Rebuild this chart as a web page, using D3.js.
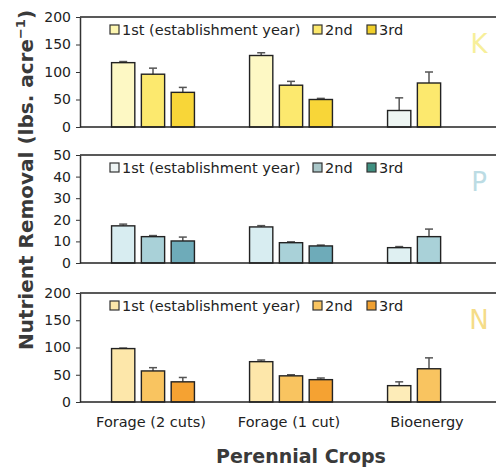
<!DOCTYPE html>
<html lang="en">
<head>
  <meta charset="UTF-8">
  <title>Nutrient removal by perennial crops</title>
  <script src="https://d3js.org/d3.v7.min.js"></script>
  <style>
    body { margin: 0; background: #fff; font-family: "DejaVu Sans", sans-serif; }
    svg { display: block; }
    .axis path, .axis line { stroke: #333; }
    .axis text { fill: #222; font-size: 14px; font-family: "DejaVu Sans", sans-serif; }
  </style>
</head>
<body>
  <svg id="chart" width="496" height="470"></svg>
  <script>
    // crops and years
    const crops = ["Forage (2 cuts)", "Forage (1 cut)", "Bioenergy"];
    const years = ["1st (establishment year)", "2nd", "3rd"];

    // values per panel: [crop][year], null = no bar
    const kValues = [[117, 96, 63], [130, 76, 50], [30, 80, null]];
    const kErrors = [[119, 107, 72], [135, 83, 52], [53, 100, null]];
    const pValues = [[17.2, 12.2, 10.2], [16.7, 9.4, 7.9], [7.1, 12.2, null]];
    const pErrors = [[18, 12.7, 12], [17.3, 9.8, 8.3], [7.6, 15.7, null]];
    const nValues = [[98, 57, 37], [74, 48, 41], [30, 61, null]];
    const nErrors = [[99, 63, 45], [77, 50, 44], [37, 81, null]];

    const kTicks = [0, 50, 100, 150, 200];
    const pTicks = [0, 10, 20, 30, 40, 50];
    const nTicks = [0, 50, 100, 150, 200];

    const panels = [
      { label: "K", values: kValues, errors: kErrors, ticks: kTicks, max: 200, top: 17, bottom: 127,
        colors: ["#fdf8c4", "#fce96e", "#f8d638"], bio1: "#eef6f3", labelColor: "#f7ef9a",
        legendColors: ["#fdf6b0", "#fce86c", "#f0cf2a"] },
      { label: "P", values: pValues, errors: pErrors, ticks: pTicks, max: 50, top: 155, bottom: 263,
        colors: ["#d8edf1", "#a9d1d8", "#6eabb9"], bio1: "#dff0f2", labelColor: "#bcdce4",
        legendColors: ["#eef4f4", "#a9c6c8", "#3f8f80"] },
      { label: "N", values: nValues, errors: nErrors, ticks: nTicks, max: 200, top: 293, bottom: 402,
        colors: ["#fde7aa", "#f9c460", "#f5a232"], bio1: "#fdecb8", labelColor: "#f5dc88",
        legendColors: ["#fde7aa", "#f9c460", "#f0a030"] }
    ];

    const svg = d3.select("#chart");
    const left = 80, right = 496;

    const x = d3.scaleBand().domain(crops).range([84, 498]).paddingInner(0);
    const xYear = d3.scaleBand().domain(years).range([-48, 48]).padding(0.22);

    panels.forEach(p => {
      const y = d3.scaleLinear().domain([0, p.max]).range([p.bottom, p.top]);
      const g = svg.append("g");

      // top frame line
      g.append("line").attr("x1", left).attr("x2", right).attr("y1", p.top).attr("y2", p.top)
        .attr("stroke", "#222").attr("stroke-width", 1.5);

      // panel letter
      g.append("text").attr("x", 479).attr("y", p.top + 36).attr("text-anchor", "middle")
        .attr("font-size", 26).attr("fill", p.labelColor).text(p.label);

      // bars
      p.values.forEach((row, ci) => {
        row.forEach((v, yi) => {
          if (v == null) return;
          const cx = x(crops[ci]) + x.bandwidth() / 2;
          const bx = cx + xYear(years[yi]);
          const bw = xYear.bandwidth();
          const fill = (ci === 2 && yi === 0) ? p.bio1 : p.colors[yi];
          const e = p.errors[ci][yi];
          g.append("line").attr("x1", bx + bw / 2).attr("x2", bx + bw / 2)
            .attr("y1", y(v)).attr("y2", y(e)).attr("stroke", "#555").attr("stroke-width", 1.5);
          g.append("line").attr("x1", bx + bw / 2 - 4).attr("x2", bx + bw / 2 + 4)
            .attr("y1", y(e)).attr("y2", y(e)).attr("stroke", "#555").attr("stroke-width", 1.5);
          g.append("rect").attr("x", bx).attr("y", y(v)).attr("width", bw).attr("height", y(0) - y(v))
            .attr("fill", fill).attr("stroke", "#222").attr("stroke-width", 1.4);
        });
      });

      // axes
      g.append("g").attr("class", "axis").attr("transform", `translate(${left},0)`)
        .call(d3.axisLeft(y).tickValues(p.ticks).tickSize(4).tickSizeOuter(0).tickPadding(5))
        .call(a => a.select(".domain").attr("stroke-width", 1.5));
      g.append("line").attr("x1", left).attr("x2", right).attr("y1", p.bottom).attr("y2", p.bottom)
        .attr("stroke", "#222").attr("stroke-width", 1.5);

      // legend
      const lg = g.append("g").attr("transform", `translate(0,${p.top + 13})`);
      const lx = [110, 313, 367];
      years.forEach((yr, i) => {
        lg.append("rect").attr("x", lx[i]).attr("y", -5).attr("width", 9).attr("height", 9)
          .attr("fill", p.legendColors[i]).attr("stroke", "#333").attr("stroke-width", 1.2);
        lg.append("text").attr("x", lx[i] + 12).attr("y", 5).attr("font-size", 14.5)
          .attr("fill", "#222").text(yr);
      });
    });

    // category labels
    svg.append("g").selectAll("text").data(crops).join("text")
      .attr("x", d => x(d) + x.bandwidth() / 2 - 2).attr("y", 427)
      .attr("text-anchor", "middle").attr("font-size", 14.5).attr("fill", "#222").text(d => d);

    // axis titles
    svg.append("text").attr("x", 301).attr("y", 463).attr("text-anchor", "middle")
      .attr("font-size", 19).attr("font-weight", 600).attr("fill", "#3a3a3a").text("Perennial Crops");

    const yt = svg.append("text").attr("transform", "translate(33,180) rotate(-90)")
      .attr("text-anchor", "middle").attr("font-size", 20).attr("font-weight", 600).attr("fill", "#3a3a3a");
    yt.append("tspan").text("Nutrient Removal (lbs. acre");
    yt.append("tspan").attr("font-size", 13).attr("dy", -8).text("−1");
    yt.append("tspan").attr("dy", 8).text(")");
  </script>
</body>
</html>
